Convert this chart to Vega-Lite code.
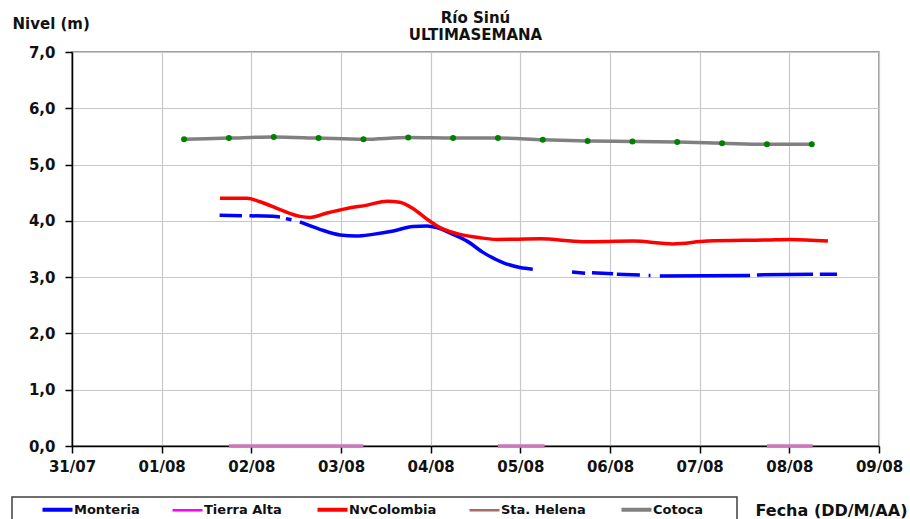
{
  "$schema": "https://vega.github.io/schema/vega-lite/v6.json",
  "width": 807,
  "height": 394,
  "autosize": {"type": "none"},
  "padding": {"left": 72, "top": 52, "right": 31, "bottom": 73},
  "background": "white",
  "config": {"view": {"stroke": "#808080", "strokeWidth": 1.5}, "font": "DejaVu Sans", "legend": {"strokeWidth": 1.5}},
  "title": {"text": ["Río Sinú", "ULTIMASEMANA"], "frame": "group", "font": "DejaVu Sans", "fontSize": 15, "fontWeight": "bold", "color": "#111", "anchor": "middle", "offset": -27, "lineHeight": 17},
  "data": {"values": [
    {"serie": "Monteria", "fecha": "2010-08-01T15:30:00Z", "nivel": 4.10},
    {"serie": "Monteria", "fecha": "2010-08-01T21:30:00Z", "nivel": 4.09},
    {"serie": "Monteria", "fecha": "2010-08-01T22:30:00Z", "nivel": null},
    {"serie": "Monteria", "fecha": "2010-08-01T23:30:00Z", "nivel": 4.09},
    {"serie": "Monteria", "fecha": "2010-08-02T05:45:00Z", "nivel": 4.08},
    {"serie": "Monteria", "fecha": "2010-08-02T07:40:00Z", "nivel": 4.07},
    {"serie": "Monteria", "fecha": "2010-08-02T08:30:00Z", "nivel": null},
    {"serie": "Monteria", "fecha": "2010-08-02T09:15:00Z", "nivel": 4.04},
    {"serie": "Monteria", "fecha": "2010-08-02T10:45:00Z", "nivel": 4.02},
    {"serie": "Monteria", "fecha": "2010-08-02T12:00:00Z", "nivel": null},
    {"serie": "Monteria", "fecha": "2010-08-02T13:00:00Z", "nivel": 3.98},
    {"serie": "Monteria", "fecha": "2010-08-02T18:20:00Z", "nivel": 3.85},
    {"serie": "Monteria", "fecha": "2010-08-02T23:45:00Z", "nivel": 3.75},
    {"serie": "Monteria", "fecha": "2010-08-03T04:15:00Z", "nivel": 3.73},
    {"serie": "Monteria", "fecha": "2010-08-03T08:30:00Z", "nivel": 3.76},
    {"serie": "Monteria", "fecha": "2010-08-03T14:00:00Z", "nivel": 3.82},
    {"serie": "Monteria", "fecha": "2010-08-03T19:15:00Z", "nivel": 3.90},
    {"serie": "Monteria", "fecha": "2010-08-03T23:00:00Z", "nivel": 3.91},
    {"serie": "Monteria", "fecha": "2010-08-04T01:40:00Z", "nivel": 3.88},
    {"serie": "Monteria", "fecha": "2010-08-04T06:00:00Z", "nivel": 3.76},
    {"serie": "Monteria", "fecha": "2010-08-04T09:45:00Z", "nivel": 3.64},
    {"serie": "Monteria", "fecha": "2010-08-04T14:00:00Z", "nivel": 3.44},
    {"serie": "Monteria", "fecha": "2010-08-04T19:20:00Z", "nivel": 3.26},
    {"serie": "Monteria", "fecha": "2010-08-04T23:55:00Z", "nivel": 3.17},
    {"serie": "Monteria", "fecha": "2010-08-05T03:20:00Z", "nivel": 3.14},
    {"serie": "Monteria", "fecha": "2010-08-05T08:00:00Z", "nivel": null},
    {"serie": "Monteria", "fecha": "2010-08-05T13:50:00Z", "nivel": 3.09},
    {"serie": "Monteria", "fecha": "2010-08-05T17:20:00Z", "nivel": 3.07},
    {"serie": "Monteria", "fecha": "2010-08-05T18:15:00Z", "nivel": null},
    {"serie": "Monteria", "fecha": "2010-08-05T19:10:00Z", "nivel": 3.08},
    {"serie": "Monteria", "fecha": "2010-08-06T00:50:00Z", "nivel": 3.06},
    {"serie": "Monteria", "fecha": "2010-08-06T01:20:00Z", "nivel": null},
    {"serie": "Monteria", "fecha": "2010-08-06T01:50:00Z", "nivel": 3.05},
    {"serie": "Monteria", "fecha": "2010-08-06T08:00:00Z", "nivel": 3.04},
    {"serie": "Monteria", "fecha": "2010-08-06T09:00:00Z", "nivel": null},
    {"serie": "Monteria", "fecha": "2010-08-06T10:20:00Z", "nivel": 3.03},
    {"serie": "Monteria", "fecha": "2010-08-06T10:50:00Z", "nivel": 3.03},
    {"serie": "Monteria", "fecha": "2010-08-06T12:00:00Z", "nivel": null},
    {"serie": "Monteria", "fecha": "2010-08-06T13:20:00Z", "nivel": 3.02},
    {"serie": "Monteria", "fecha": "2010-08-07T13:30:00Z", "nivel": 3.03},
    {"serie": "Monteria", "fecha": "2010-08-07T14:20:00Z", "nivel": null},
    {"serie": "Monteria", "fecha": "2010-08-07T15:20:00Z", "nivel": 3.04},
    {"serie": "Monteria", "fecha": "2010-08-08T06:20:00Z", "nivel": 3.05},
    {"serie": "Monteria", "fecha": "2010-08-08T07:15:00Z", "nivel": null},
    {"serie": "Monteria", "fecha": "2010-08-08T08:10:00Z", "nivel": 3.05},
    {"serie": "Monteria", "fecha": "2010-08-08T12:45:00Z", "nivel": 3.05},

    {"serie": "Tierra Alta", "fecha": "2010-08-01T18:00:00Z", "nivel": 0},
    {"serie": "Tierra Alta", "fecha": "2010-08-03T06:00:00Z", "nivel": 0},
    {"serie": "Tierra Alta", "fecha": "2010-08-03T12:00:00Z", "nivel": null},
    {"serie": "Tierra Alta", "fecha": "2010-08-04T18:00:00Z", "nivel": 0},
    {"serie": "Tierra Alta", "fecha": "2010-08-05T06:30:00Z", "nivel": 0},
    {"serie": "Tierra Alta", "fecha": "2010-08-06T00:00:00Z", "nivel": null},
    {"serie": "Tierra Alta", "fecha": "2010-08-07T18:00:00Z", "nivel": 0},
    {"serie": "Tierra Alta", "fecha": "2010-08-08T06:15:00Z", "nivel": 0},

    {"serie": "NvColombia", "fecha": "2010-08-01T15:36:00Z", "nivel": 4.40},
    {"serie": "NvColombia", "fecha": "2010-08-01T22:50:00Z", "nivel": 4.40},
    {"serie": "NvColombia", "fecha": "2010-08-02T02:20:00Z", "nivel": 4.34},
    {"serie": "NvColombia", "fecha": "2010-08-02T07:40:00Z", "nivel": 4.20},
    {"serie": "NvColombia", "fecha": "2010-08-02T13:00:00Z", "nivel": 4.08},
    {"serie": "NvColombia", "fecha": "2010-08-02T15:40:00Z", "nivel": 4.06},
    {"serie": "NvColombia", "fecha": "2010-08-02T20:15:00Z", "nivel": 4.14},
    {"serie": "NvColombia", "fecha": "2010-08-03T01:35:00Z", "nivel": 4.22},
    {"serie": "NvColombia", "fecha": "2010-08-03T07:00:00Z", "nivel": 4.28},
    {"serie": "NvColombia", "fecha": "2010-08-03T12:20:00Z", "nivel": 4.35},
    {"serie": "NvColombia", "fecha": "2010-08-03T15:45:00Z", "nivel": 4.33},
    {"serie": "NvColombia", "fecha": "2010-08-03T19:15:00Z", "nivel": 4.22},
    {"serie": "NvColombia", "fecha": "2010-08-03T23:00:00Z", "nivel": 4.03},
    {"serie": "NvColombia", "fecha": "2010-08-04T02:30:00Z", "nivel": 3.88},
    {"serie": "NvColombia", "fecha": "2010-08-04T07:50:00Z", "nivel": 3.76},
    {"serie": "NvColombia", "fecha": "2010-08-04T13:10:00Z", "nivel": 3.70},
    {"serie": "NvColombia", "fecha": "2010-08-04T17:45:00Z", "nivel": 3.67},
    {"serie": "NvColombia", "fecha": "2010-08-05T05:15:00Z", "nivel": 3.68},
    {"serie": "NvColombia", "fecha": "2010-08-05T16:45:00Z", "nivel": 3.63},
    {"serie": "NvColombia", "fecha": "2010-08-06T06:10:00Z", "nivel": 3.64},
    {"serie": "NvColombia", "fecha": "2010-08-06T16:50:00Z", "nivel": 3.59},
    {"serie": "NvColombia", "fecha": "2010-08-07T02:00:00Z", "nivel": 3.64},
    {"serie": "NvColombia", "fecha": "2010-08-07T18:00:00Z", "nivel": 3.66},
    {"serie": "NvColombia", "fecha": "2010-08-08T00:10:00Z", "nivel": 3.67},
    {"serie": "NvColombia", "fecha": "2010-08-08T10:20:00Z", "nivel": 3.64},

    {"serie": "Cotoca", "fecha": "2010-08-01T06:00:00Z", "nivel": 5.45},
    {"serie": "Cotoca", "fecha": "2010-08-01T18:00:00Z", "nivel": 5.47},
    {"serie": "Cotoca", "fecha": "2010-08-02T06:00:00Z", "nivel": 5.49},
    {"serie": "Cotoca", "fecha": "2010-08-02T18:00:00Z", "nivel": 5.47},
    {"serie": "Cotoca", "fecha": "2010-08-03T06:00:00Z", "nivel": 5.45},
    {"serie": "Cotoca", "fecha": "2010-08-03T18:00:00Z", "nivel": 5.48},
    {"serie": "Cotoca", "fecha": "2010-08-04T06:00:00Z", "nivel": 5.47},
    {"serie": "Cotoca", "fecha": "2010-08-04T18:00:00Z", "nivel": 5.47},
    {"serie": "Cotoca", "fecha": "2010-08-05T06:00:00Z", "nivel": 5.44},
    {"serie": "Cotoca", "fecha": "2010-08-05T18:00:00Z", "nivel": 5.42},
    {"serie": "Cotoca", "fecha": "2010-08-06T06:00:00Z", "nivel": 5.41},
    {"serie": "Cotoca", "fecha": "2010-08-06T18:00:00Z", "nivel": 5.40},
    {"serie": "Cotoca", "fecha": "2010-08-07T06:00:00Z", "nivel": 5.38},
    {"serie": "Cotoca", "fecha": "2010-08-07T18:00:00Z", "nivel": 5.36},
    {"serie": "Cotoca", "fecha": "2010-08-08T06:00:00Z", "nivel": 5.36}
  ]},
  "layer": [
    {
      "mark": {"type": "line", "strokeWidth": 3.5, "interpolate": "monotone"},
      "encoding": {
        "x": {
          "field": "fecha", "type": "temporal",
          "scale": {"type": "utc", "domain": [{"year": 2010, "month": "jul", "date": 31, "utc": true}, {"year": 2010, "month": "aug", "date": 9, "utc": true}]},
          "axis": {
            "labelExpr": "utcFormat(datum.value, '%d/%m')",
            "tickCount": {"interval": "day", "step": 1},
            "labelFont": "DejaVu Sans", "labelFontSize": 15, "labelFontWeight": "bold", "labelColor": "#111",
            "labelPadding": 6, "labelFlush": false, "labelOverlap": false,
            "domainColor": "#000", "domainWidth": 1.5,
            "tickColor": "#000", "tickSize": 7, "tickWidth": 1.5,
            "grid": true, "gridColor": "#c8c8c8", "gridWidth": 1.2, "gridOpacity": 1,
            "title": "Fecha (DD/M/AA)", "titleFont": "DejaVu Sans", "titleFontSize": 16, "titleFontWeight": "bold", "titleColor": "#111",
            "titleX": 683, "titleY": 64, "titleAlign": "left", "titleBaseline": "middle"
          }
        },
        "y": {
          "field": "nivel", "type": "quantitative",
          "scale": {"domain": [0, 7], "nice": false, "zero": true},
          "axis": {
            "values": [0, 0.5, 1, 1.5, 2, 2.5, 3, 3.5, 4, 4.5, 5, 5.5, 6, 6.5, 7],
            "labelExpr": "datum.value % 1 === 0 ? replace(format(datum.value, '.1f'), '.', ',') : ''",
            "tickOpacity": {"condition": {"test": "datum.value % 1 !== 0", "value": 0}, "value": 1},
            "labelFont": "DejaVu Sans", "labelFontSize": 15, "labelFontWeight": "bold", "labelColor": "#111",
            "labelPadding": 10,
            "domainColor": "#000", "domainWidth": 1.5,
            "tickColor": "#000", "tickSize": 7, "tickWidth": 1.5,
            "grid": true, "gridColor": "#c8c8c8", "gridWidth": 1.2, "gridOpacity": 1,
            "title": "Nivel (m)", "titleFont": "DejaVu Sans", "titleFontSize": 15, "titleFontWeight": "bold", "titleColor": "#111",
            "titleAngle": 0, "titleX": -60, "titleY": -29, "titleAlign": "left", "titleBaseline": "middle"
          }
        },
        "color": {
          "condition": {"test": "datum.serie === 'Tierra Alta'", "value": "#cc77b8"},
          "field": "serie", "type": "nominal",
          "scale": {"domain": ["Monteria", "Tierra Alta", "NvColombia", "Sta. Helena", "Cotoca"], "range": ["#0000ff", "#ff00ff", "#ff0000", "#a86a6a", "#808080"]},
          "legend": {
            "orient": "none", "legendX": -60, "legendY": 445,
            "direction": "horizontal", "columns": 5,
            "title": "\u00a0", "titleOrient": "left", "titlePadding": 33, "titleFontSize": 13,
            "padding": 6, "strokeColor": "#404040", "fillColor": "white",
            "symbolType": "M-3,0H3", "symbolSize": 100, "symbolStrokeWidth": 4,
            "labelFont": "DejaVu Sans", "labelFontSize": 13, "labelFontWeight": "bold", "labelColor": "#111",
            "labelOffset": 10, "columnPadding": 27, "labelLimit": 300,
            "labelExpr": "datum.label === 'Cotoca' ? 'Cotoca\u00a0\u00a0\u00a0\u00a0\u00a0\u00a0\u200b' : datum.label",
            "encode": {"symbols": {"update": {"strokeWidth": {"signal": "indexof(['Tierra Alta', 'Sta. Helena'], datum.value) >= 0 ? 2.5 : 4"}, "stroke": {"signal": "scale('color', datum.value)"}}}}
          }
        }
      }
    },
    {
      "transform": [{"filter": "datum.serie === 'Cotoca'"}],
      "mark": {"type": "circle", "size": 36, "color": "#008000", "opacity": 1},
      "encoding": {
        "x": {"field": "fecha", "type": "temporal"},
        "y": {"field": "nivel", "type": "quantitative"}
      }
    }
  ]
}
